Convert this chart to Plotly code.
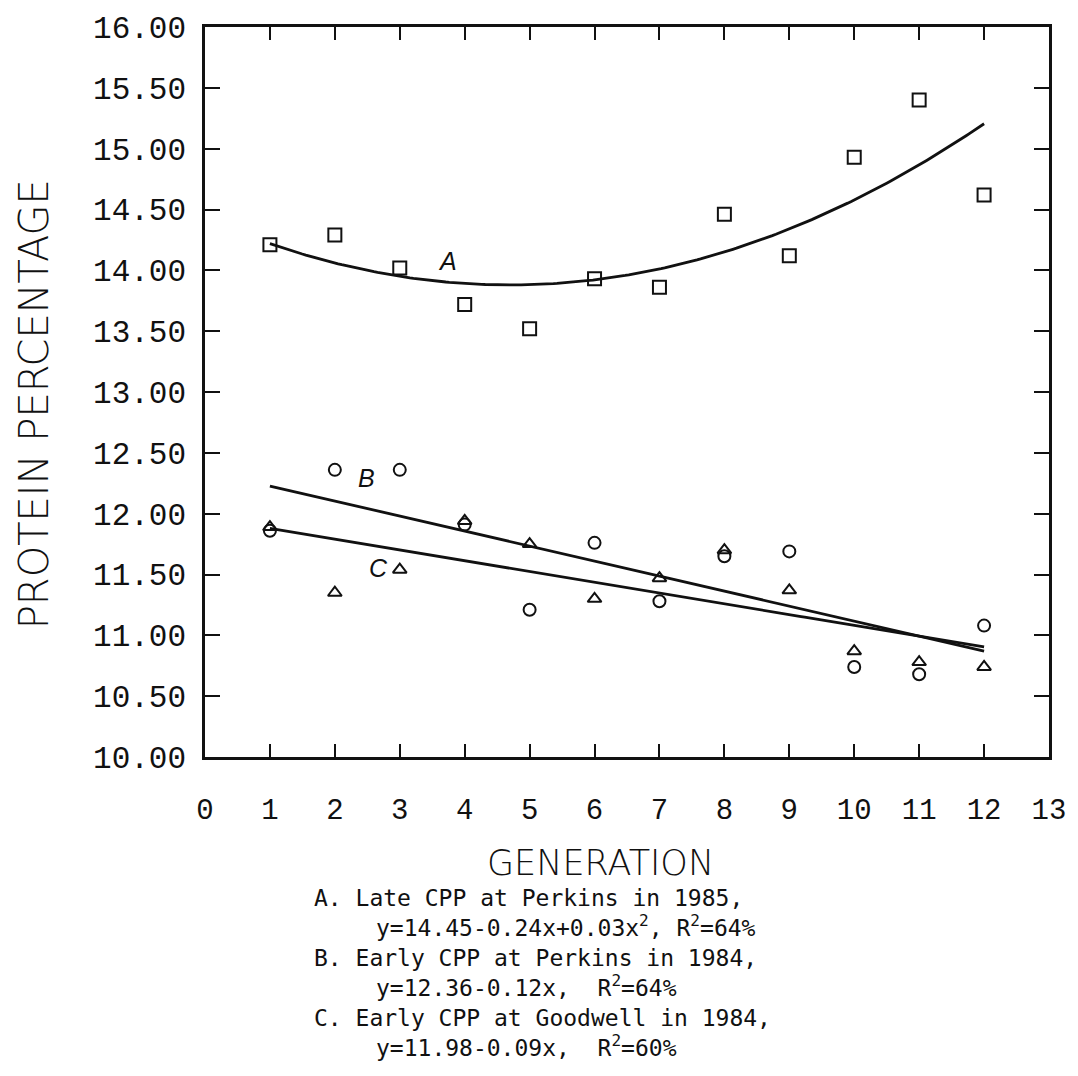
import numpy as np
import plotly.graph_objects as go

# Generation numbers and mean protein percentage per selection cycle
generation = [1, 2, 3, 4, 5, 6, 7, 8, 9, 10, 11, 12]
late_perkins_1985 = [14.21, 14.29, 14.02, 13.72, 13.52, 13.93, 13.86, 14.46, 14.12, 14.93, 15.40, 14.62]
early_perkins_1984 = [11.86, 12.36, 12.36, 11.91, 11.21, 11.76, 11.28, 11.65, 11.69, 10.74, 10.68, 11.08]
early_goodwell_1984 = [11.89, 11.35, 11.54, 11.94, 11.75, 11.30, 11.47, 11.70, 11.37, 10.87, 10.78, 10.74]

x_ticks = list(range(0, 14))
y_ticks = [10.0, 10.5, 11.0, 11.5, 12.0, 12.5, 13.0, 13.5, 14.0, 14.5, 15.0, 15.5, 16.0]
y_tick_text = ["%.2f" % v for v in y_ticks]

footnote_lines = [
    "A. Late CPP at Perkins in 1985,",
    "y=14.45-0.24x+0.03x<sup>2</sup>, R<sup>2</sup>=64%",
    "B. Early CPP at Perkins in 1984,",
    "y=12.36-0.12x,\u00a0\u00a0R<sup>2</sup>=64%",
    "C. Early CPP at Goodwell in 1984,",
    "y=11.98-0.09x,\u00a0\u00a0R<sup>2</sup>=60%",
]

# Regression fits over the observed generations
gx = np.array(generation, dtype=float)
xs = np.linspace(1, 12, 200)
fit_a = np.polyval(np.polyfit(gx, late_perkins_1985, 2), xs)
fit_b = np.polyval(np.polyfit(gx, early_perkins_1984, 1), xs)
fit_c = np.polyval(np.polyfit(gx, early_goodwell_1984, 1), xs)

INK = "#111111"
fig = go.Figure()

for fit in (fit_a, fit_b, fit_c):
    fig.add_trace(go.Scatter(x=xs, y=fit, mode="lines",
                             line=dict(color=INK, width=2.8),
                             showlegend=False, hoverinfo="skip"))

marker_specs = [
    (late_perkins_1985, "square-open", 13),
    (early_perkins_1984, "circle-open", 12),
    (early_goodwell_1984, "triangle-up-open", 12),
]
for vals, sym, size in marker_specs:
    fig.add_trace(go.Scatter(x=generation, y=vals, mode="markers",
                             marker=dict(symbol=sym, size=size, color=INK,
                                         line=dict(color=INK, width=2)),
                             showlegend=False))

L, R, T, B = 205, 22, 17, 319
W, H = 1078, 1076
pw, ph = W - L - R, H - T - B


def px_x(px):
    return (px - L) / pw


def px_y(py):
    return (H - B - py) / ph


annotations = []
# Curve letters
for txt, xv, yv in [("A", 3.73, 14.08), ("B", 2.48, 12.29), ("C", 2.68, 11.55)]:
    annotations.append(dict(x=xv, y=yv, xref="x", yref="y", text=txt, showarrow=False,
                            font=dict(family="Liberation Sans", size=25, color=INK, style="italic")))

# Axis titles
annotations.append(dict(x=px_x(32), y=px_y(399), xref="paper", yref="paper",
                        xanchor="center", yanchor="middle",
                        text="PROTEIN PERCENTAGE", textangle=-90, showarrow=False,
                        font=dict(family="DejaVu Sans", size=40, color=INK, weight=200)))
annotations.append(dict(x=px_x(604), y=px_y(864), xref="paper", yref="paper",
                        xanchor="center", yanchor="middle",
                        text="GENERATION", showarrow=False,
                        font=dict(family="DejaVu Sans", size=35, color=INK, weight=200)))

# Footnote
line_centres = [900, 928, 961, 989, 1022, 1050]
for i, (txt, cy) in enumerate(zip(footnote_lines, line_centres)):
    x0 = 313 if i % 2 == 0 else 375
    annotations.append(dict(x=px_x(x0), y=px_y(cy), xref="paper", yref="paper",
                            xanchor="left", yanchor="middle", text=txt, showarrow=False,
                            font=dict(family="DejaVu Sans Mono", size=23, color=INK)))

axis_common = dict(showline=True, linecolor=INK, linewidth=2.5, mirror="ticks",
                   ticks="inside", tickcolor=INK, tickwidth=2, showgrid=False,
                   zeroline=False)

fig.update_layout(
    width=W, height=H,
    margin=dict(l=L, r=R, t=T, b=B),
    paper_bgcolor="white", plot_bgcolor="white",
    xaxis=dict(range=[0, 13], tickvals=x_ticks, ticklen=13,
               tickfont=dict(family="Liberation Mono", size=29, color=INK),
               ticklabelstandoff=24, **axis_common),
    yaxis=dict(range=[10, 16], tickvals=y_ticks, ticktext=y_tick_text, ticklen=15,
               tickfont=dict(family="Liberation Mono", size=31, color=INK),
               ticklabelstandoff=10, **axis_common),
    annotations=annotations,
)

fig.write_html("out.html")
